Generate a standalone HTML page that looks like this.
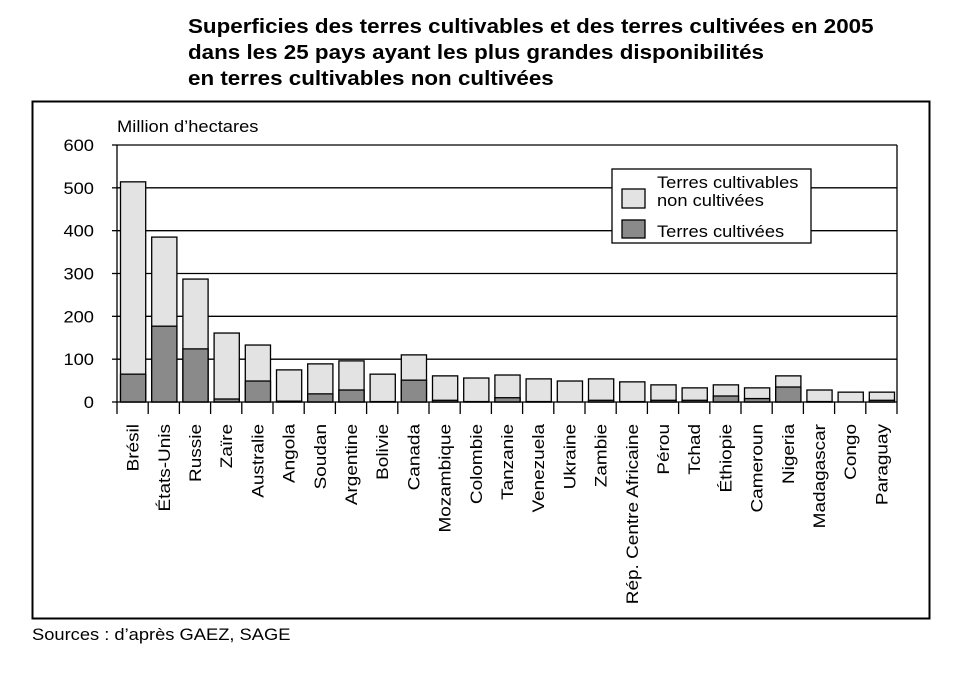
<!DOCTYPE html>
<html><head><meta charset="utf-8"><style>
html,body{margin:0;padding:0;background:#fff;}
svg{display:block;font-family:"Liberation Sans",Arial,sans-serif;}
</style></head><body>
<svg id="s" width="969" height="673" viewBox="0 0 969 673" xmlns="http://www.w3.org/2000/svg">
<g transform="translate(188,33) scale(1.12,1)"><text x="0" y="0" font-size="20" font-weight="bold">Superficies des terres cultivables et des terres cultivées en 2005</text></g>
<g transform="translate(188,59) scale(1.12,1)"><text x="0" y="0" font-size="20" font-weight="bold">dans les 25 pays ayant les plus grandes disponibilités</text></g>
<g transform="translate(188,85) scale(1.12,1)"><text x="0" y="0" font-size="20" font-weight="bold">en terres cultivables non cultivées</text></g>
<rect x="32.5" y="101.5" width="897" height="517" fill="none" stroke="#000" stroke-width="2"/>
<g transform="translate(117,132) scale(1.11,1)"><text font-size="16.5">Million d’hectares</text></g>
<g transform="translate(32,640) scale(1.11,1)"><text font-size="16.5">Sources : d’après GAEZ, SAGE</text></g>
<g id="g"></g>
</svg>
<script>
var d=[["Brésil",514,65],["États-Unis",385,177],["Russie",287,124],["Zaïre",161,7],["Australie",133,49],["Angola",75,2],["Soudan",89,19],["Argentine",96,28],["Bolivie",65,1],["Canada",110,51],["Mozambique",61,4],["Colombie",56,1],["Tanzanie",63,10],["Venezuela",54,1],["Ukraine",49,0],["Zambie",54,4],["Rép. Centre Africaine",47,1],["Pérou",40,4],["Tchad",33,4],["Éthiopie",40,14],["Cameroun",33,8],["Nigeria",61,35],["Madagascar",28,1],["Congo",23,0],["Paraguay",23,4]];
var x0=117,x1=897,y0=402,k=257/600,w=(x1-x0)/25,h='';
function T(x,y,fs,sx,s,anc,rot){return '<g transform="translate('+x+','+y+')'+(rot?' rotate(-90)':'')+' scale('+sx+',1)"><text font-size="'+fs+'" text-anchor="'+(anc||'start')+'">'+s+'</text></g>';}
for(var v=0;v<=600;v+=100){var y=y0-v*k;
 if(v>0)h+='<line x1="'+x0+'" x2="'+x1+'" y1="'+y+'" y2="'+y+'" stroke="#000" stroke-width="1.3"/>';
 h+='<line x1="'+(x0-5)+'" x2="'+x0+'" y1="'+y+'" y2="'+y+'" stroke="#000" stroke-width="1.3"/>';
 h+=T(x0-23,y+6,16.5,1.11,v,'end');}
h+='<line x1="'+x1+'" x2="'+x1+'" y1="145" y2="'+y0+'" stroke="#000" stroke-width="1.3"/>';
d.forEach(function(r,i){var bx=x0+i*w+3.5,bw=w-6;
 var yt=y0-r[1]*k,yc=y0-r[2]*k;
 h+='<rect x="'+bx+'" y="'+yt+'" width="'+bw+'" height="'+(y0-yt)+'" fill="#e3e3e3" stroke="#000" stroke-width="1.3"/>';
 if(r[2]>0)h+='<rect x="'+bx+'" y="'+yc+'" width="'+bw+'" height="'+(y0-yc)+'" fill="#8a8a8a" stroke="#000" stroke-width="1.3"/>';
 var cx=x0+i*w+w/2+6;
 h+=T(cx,424,16.5,1.15,r[0],'end',1);
});
for(var i=0;i<=25;i++){var tx=x0+i*w;h+='<line x1="'+tx+'" x2="'+tx+'" y1="'+(i==0?145:y0)+'" y2="'+(y0+12)+'" stroke="#000" stroke-width="1.3"/>';}
h+='<line x1="'+x0+'" x2="'+x1+'" y1="'+y0+'" y2="'+y0+'" stroke="#000" stroke-width="1.3"/>';
h+='<rect x="612" y="169" width="199" height="74" fill="#fff" stroke="#000" stroke-width="1.3"/>';
h+='<rect x="622" y="189" width="23" height="19" fill="#e3e3e3" stroke="#000" stroke-width="1.3"/>';
h+='<rect x="622" y="220" width="23" height="18" fill="#8a8a8a" stroke="#000" stroke-width="1.3"/>';
h+=T(657,188,16.5,1.11,'Terres cultivables')+T(657,206,16.5,1.11,'non cultivées')+T(657,237,16.5,1.11,'Terres cultivées');
document.getElementById('g').innerHTML=h;
</script>
</body></html>
